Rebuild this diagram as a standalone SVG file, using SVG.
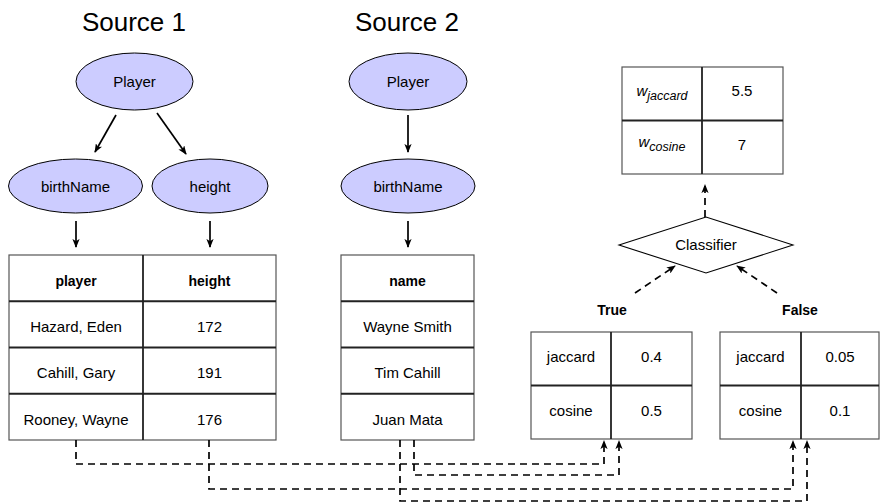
<svg xmlns="http://www.w3.org/2000/svg" width="880" height="503" viewBox="0 0 880 503">
  <style>
    text { font-family: "Liberation Sans", Arial, sans-serif; font-size: 15px; fill: #000; text-anchor: middle; }
    .title { font-size: 26px; }
    .hdr { font-weight: bold; font-size: 14px; }
    .ent { fill: #ccccff; stroke: #000; stroke-width: 1; }
    .frame { fill: #fff; stroke: #555; stroke-width: 1.2; }
    .grid { stroke: #222; stroke-width: 1.8; fill: none; }
    .solid { stroke: #000; stroke-width: 1.7; fill: none; marker-end: url(#tip); }
    .dash { stroke: #000; stroke-width: 1.7; fill: none; stroke-dasharray: 7 5; marker-end: url(#tip); }
    .it { font-style: italic; }
    .sub { font-style: italic; font-size: 12.5px; }
  </style>
  <defs>
    <marker id="tip" viewBox="0 0 10 8" refX="9" refY="4" markerWidth="9" markerHeight="7.2" markerUnits="userSpaceOnUse" orient="auto">
      <path d="M0,0 L10,4 L0,8 L2.5,4 z" fill="#000"/>
    </marker>
  </defs>

  <!-- titles -->
  <text class="title" x="134" y="31">Source 1</text>
  <text class="title" x="407" y="31">Source 2</text>

  <!-- Source 1 schema -->
  <g id="s1-player">
    <ellipse class="ent" cx="134.5" cy="81.5" rx="58.5" ry="28.5"/>
    <text x="134.5" y="86.5">Player</text>
  </g>
  <g id="s1-birthName">
    <ellipse class="ent" cx="75.5" cy="186" rx="67" ry="27"/>
    <text x="75.5" y="191.5">birthName</text>
  </g>
  <g id="s1-height">
    <ellipse class="ent" cx="210" cy="186" rx="58" ry="27"/>
    <text x="210" y="191.5">height</text>
  </g>

  <!-- Source 2 schema -->
  <g id="s2-player">
    <ellipse class="ent" cx="408" cy="81.5" rx="59" ry="28.5"/>
    <text x="408" y="86.5">Player</text>
  </g>
  <g id="s2-birthName">
    <ellipse class="ent" cx="408" cy="186" rx="67" ry="27"/>
    <text x="408" y="191.5">birthName</text>
  </g>

  <!-- Source 1 table -->
  <g id="s1-table">
    <rect class="frame" x="9" y="255" width="267" height="185"/>
    <path class="grid" d="M143,255 V440 M9,301.25 H276 M9,347.5 H276 M9,393.75 H276"/>
    <text class="hdr" x="76" y="286">player</text>
    <text class="hdr" x="209.5" y="286">height</text>
    <text x="76" y="332">Hazard, Eden</text>
    <text x="209.5" y="332">172</text>
    <text x="76" y="378">Cahill, Gary</text>
    <text x="209.5" y="378">191</text>
    <text x="76" y="425">Rooney, Wayne</text>
    <text x="209.5" y="425">176</text>
  </g>

  <!-- Source 2 table -->
  <g id="s2-table">
    <rect class="frame" x="341" y="255" width="133" height="185"/>
    <path class="grid" d="M341,301.25 H474 M341,347.5 H474 M341,393.75 H474"/>
    <text class="hdr" x="407.5" y="286">name</text>
    <text x="407.5" y="332">Wayne Smith</text>
    <text x="407.5" y="378">Tim Cahill</text>
    <text x="407.5" y="425">Juan Mata</text>
  </g>

  <!-- learned weights -->
  <g id="weights">
    <rect class="frame" x="622" y="67" width="161" height="107"/>
    <path class="grid" d="M702,67 V174 M622,120.5 H783"/>
    <text x="662" y="96"><tspan class="it">w</tspan><tspan class="sub" dy="4">jaccard</tspan></text>
    <text x="742" y="96">5.5</text>
    <text x="662" y="147"><tspan class="it">w</tspan><tspan class="sub" dy="4">cosine</tspan></text>
    <text x="742" y="150">7</text>
  </g>

  <!-- classifier -->
  <g id="classifier">
    <polygon points="619,245 706,217 793,245 706,273" fill="#fff" stroke="#000" stroke-width="1.1"/>
    <text x="706" y="250">Classifier</text>
  </g>

  <g id="label-true"><text class="hdr" x="612" y="315">True</text></g>
  <g id="label-false"><text class="hdr" x="800" y="315">False</text></g>

  <!-- similarity vectors -->
  <g id="true-pair">
    <rect class="frame" x="531" y="332" width="161" height="107"/>
    <path class="grid" d="M611,332 V439 M531,385.5 H692"/>
    <text x="571" y="362">jaccard</text>
    <text x="651.5" y="362">0.4</text>
    <text x="571" y="416">cosine</text>
    <text x="651.5" y="416">0.5</text>
  </g>
  <g id="false-pair">
    <rect class="frame" x="720" y="332" width="159" height="107"/>
    <path class="grid" d="M801,332 V439 M720,385.5 H879"/>
    <text x="760.5" y="362">jaccard</text>
    <text x="840" y="362">0.05</text>
    <text x="760.5" y="416">cosine</text>
    <text x="840" y="416">0.1</text>
  </g>

  <!-- connectors -->
  <g id="connectors">
    <path class="solid" d="M116,115 L95,152"/>
    <path class="solid" d="M157,113 L186,154"/>
    <path class="solid" d="M408,115 V152"/>
    <path class="solid" d="M76,221 V247"/>
    <path class="solid" d="M210,221 V247"/>
    <path class="solid" d="M408,221 V247"/>

    <path class="dash" d="M705,217 V185"/>
    <path class="dash" d="M635,293 L675,266"/>
    <path class="dash" d="M777,293 L737,266"/>

    <path class="dash" d="M76,440 V464 H604 V441"/>
    <path class="dash" d="M414,440 V475 H619 V441"/>
    <path class="dash" d="M209,440 V489 H793 V441"/>
    <path class="dash" d="M400,440 V501 H807 V441"/>
  </g>
</svg>
